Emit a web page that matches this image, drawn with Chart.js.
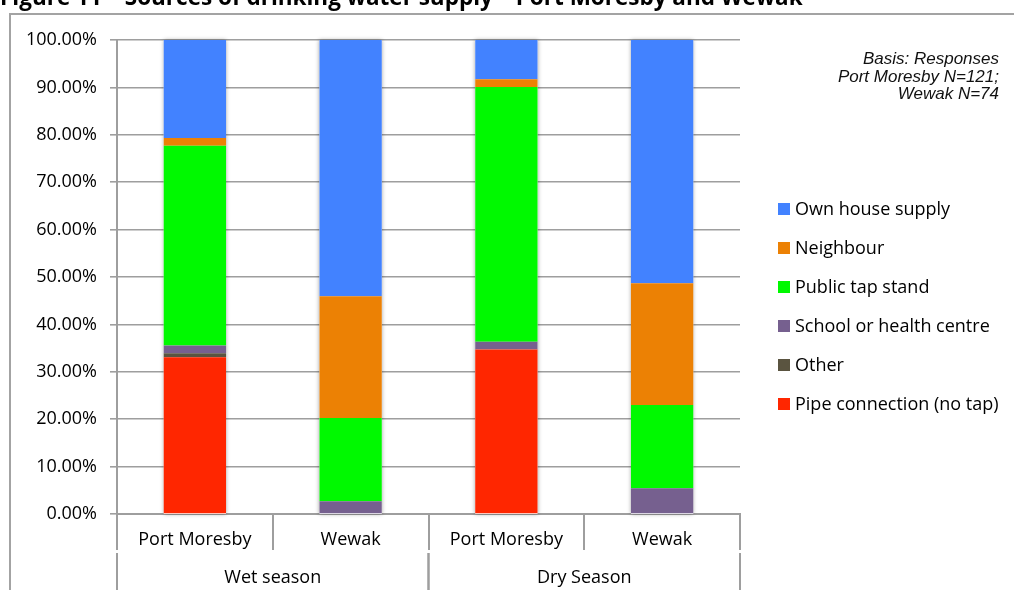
<!DOCTYPE html>
<html>
<head>
<meta charset="utf-8">
<script src="https://cdn.jsdelivr.net/npm/chart.js@4/dist/chart.umd.min.js"></script>
<style>
  html, body { margin: 0; padding: 0; background: #fff; }
  #wrap { width: 1014px; height: 590px; position: relative; }
</style>
</head>
<body>
<div id="wrap"><canvas id="c" width="1014" height="590"></canvas></div>
<script>
// Share of responses (%) by source, stacked bottom-to-top
const categories = ['Port Moresby', 'Wewak', 'Port Moresby', 'Wewak'];
const seasons = ['Wet season', 'Dry Season'];
const pipeConnection = [33.06, 0, 34.71, 0];
const otherSource = [0.83, 0, 0, 0];
const schoolHealth = [1.65, 2.70, 1.65, 5.41];
const publicTap = [42.15, 17.57, 53.72, 17.57];
const neighbour = [1.65, 25.68, 1.65, 25.68];
const ownHouse = [20.66, 54.05, 8.26, 51.35];
const yTicks = [0, 10, 20, 30, 40, 50, 60, 70, 80, 90, 100];

const titleText = 'Figure 11 \u2013 Sources of drinking water supply \u2013 Port Moresby and Wewak';
const noteLines = ['Basis: Responses', 'Port Moresby N=121;', 'Wewak N=74'];

const UI_FONT = '"Open Sans", Lato, sans-serif';
const GRID = '#9e9e9e';

const datasets = [
  { label: 'Pipe connection (no tap)', data: pipeConnection, backgroundColor: '#ff2600' },
  { label: 'Other', data: otherSource, backgroundColor: '#5a5440' },
  { label: 'School or health centre', data: schoolHealth, backgroundColor: '#76608f' },
  { label: 'Public tap stand', data: publicTap, backgroundColor: '#00f900' },
  { label: 'Neighbour', data: neighbour, backgroundColor: '#ec8104' },
  { label: 'Own house supply', data: ownHouse, backgroundColor: '#4282ff' }
].map(d => Object.assign(d, { barPercentage: 0.4, categoryPercentage: 1, borderWidth: 0 }));

// Frame, title and note around the plot
const framePlugin = {
  id: 'frame',
  beforeDraw(chart) {
    const ctx = chart.ctx;
    ctx.save();
    ctx.fillStyle = '#fff';
    ctx.fillRect(0, 0, chart.width, chart.height);
    ctx.strokeStyle = '#a3a3a3';
    ctx.lineWidth = 2;
    ctx.beginPath();
    ctx.moveTo(10, chart.height);
    ctx.lineTo(10, 14);
    ctx.lineTo(chart.width, 14);
    ctx.stroke();
    ctx.fillStyle = '#000';
    ctx.font = 'bold 22.5px ' + UI_FONT;
    ctx.textBaseline = 'alphabetic';
    ctx.textAlign = 'left';
    ctx.fillText(titleText, 0, 5);
    ctx.font = 'italic 17px "Liberation Sans", Arial, sans-serif';
    ctx.textAlign = 'right';
    ctx.fillStyle = '#111';
    noteLines.forEach((t, i) => ctx.fillText(t, 999, 64 + i * 17.5));
    ctx.restore();
  }
};

// Soft shadow behind each full stacked column
const shadowPlugin = {
  id: 'colShadow',
  beforeDatasetsDraw(chart) {
    const ctx = chart.ctx;
    const y = chart.scales.y;
    const meta = chart.getDatasetMeta(0);
    ctx.save();
    ctx.shadowColor = 'rgba(0,0,0,0.35)';
    ctx.shadowBlur = 4;
    ctx.fillStyle = '#fff';
    meta.data.forEach((bar, i) => {
      const total = chart.data.datasets.reduce((s, d) => s + d.data[i], 0);
      const top = y.getPixelForValue(total);
      const bottom = y.getPixelForValue(0);
      ctx.fillRect(bar.x - bar.width / 2, top, bar.width, bottom - top);
    });
    ctx.restore();
  }
};

// Season row under the city labels
const groupPlugin = {
  id: 'groups',
  afterDraw(chart) {
    const ctx = chart.ctx;
    const x = chart.scales.x;
    const half = (x.getPixelForValue(1) - x.getPixelForValue(0)) / 2;
    ctx.save();
    ctx.strokeStyle = GRID;
    ctx.lineWidth = 2;
    ctx.fillStyle = '#000';
    ctx.font = '18px ' + UI_FONT;
    ctx.textAlign = 'center';
    ctx.textBaseline = 'middle';
    seasons.forEach((s, g) => {
      const l = x.getPixelForValue(g * 2) - half;
      const r = x.getPixelForValue(g * 2 + 1) + half;
      ctx.beginPath();
      ctx.moveTo(l, 553); ctx.lineTo(l, chart.height);
      ctx.moveTo(r, 553); ctx.lineTo(r, chart.height);
      ctx.stroke();
      ctx.fillText(s, (l + r) / 2, 578);
    });
    ctx.restore();
  }
};

// Legend listed top-down in stacking order
const legendPlugin = {
  id: 'sideLegend',
  afterDraw(chart) {
    const ctx = chart.ctx;
    const ds = chart.data.datasets.slice().reverse();
    ctx.save();
    ctx.font = '18px ' + UI_FONT;
    ctx.textBaseline = 'middle';
    ctx.textAlign = 'left';
    ds.forEach((d, i) => {
      const cy = 209 + i * 39;
      ctx.fillStyle = d.backgroundColor;
      ctx.fillRect(778, cy - 6, 12, 12);
      ctx.fillStyle = '#000';
      ctx.fillText(d.label, 795, cy + 1);
    });
    ctx.restore();
  }
};

new Chart(document.getElementById('c'), {
  type: 'bar',
  data: { labels: categories, datasets },
  plugins: [framePlugin, shadowPlugin, groupPlugin, legendPlugin],
  options: {
    responsive: false,
    animation: false,
    layout: { padding: { left: 0, top: 40, right: 274, bottom: 0 } },
    plugins: { legend: { display: false }, tooltip: { enabled: false } },
    scales: {
      x: {
        stacked: true,
        offset: true,
        afterFit(s) { s.height = 76; },
        grid: { offset: true, drawOnChartArea: false, drawTicks: true, tickLength: 36, color: GRID, lineWidth: 2 },
        border: { color: GRID, width: 2 },
        ticks: { color: '#000', font: { family: UI_FONT, size: 18 }, padding: -21, maxRotation: 0 }
      },
      y: {
        stacked: true,
        min: 0,
        max: 100,
        afterFit(s) { s.width = 117; },
        afterBuildTicks(s) { s.ticks = yTicks.map(v => ({ value: v })); },
        grid: { color: GRID, lineWidth: 1.6, tickLength: 7 },
        border: { color: GRID, width: 2 },
        ticks: {
          color: '#000',
          padding: 13,
          font: { family: UI_FONT, size: 18 },
          callback: v => v.toFixed(2) + '%'
        }
      }
    }
  }
});
</script>
</body>
</html>
